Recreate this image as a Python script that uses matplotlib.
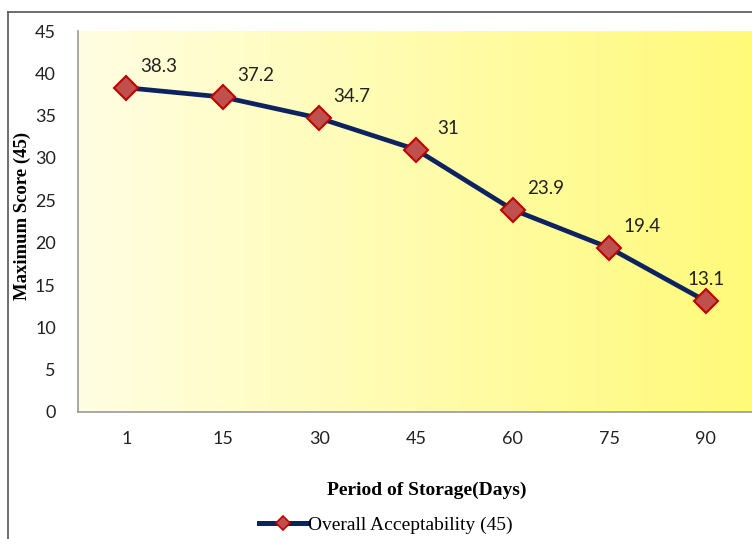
import numpy as np
import matplotlib
matplotlib.use('Agg')
import matplotlib.pyplot as plt
from matplotlib.colors import LinearSegmentedColormap
from matplotlib.lines import Line2D

days = ['1', '15', '30', '45', '60', '75', '90']
scores = [38.3, 37.2, 34.7, 31.0, 23.9, 19.4, 13.1]
score_labels = ['38.3', '37.2', '34.7', '31', '23.9', '19.4', '13.1']
y_ticks = [0, 5, 10, 15, 20, 25, 30, 35, 40, 45]

LINE_C = '#0D2260'
FACE_C = '#C0504D'
EDGE_C = '#C00000'
TICK_FONT = 'Lato'

fig = plt.figure(figsize=(7.52, 5.39), dpi=100)
ax = fig.add_axes([78/752, 127/539, 676/752, 381/539])

# gradient background of plot area
cmap = LinearSegmentedColormap.from_list('yel', ['#FFFEE2', '#FFFA78'])
grad = np.linspace(0, 1, 256).reshape(1, -1)
x = np.arange(len(days))
ax.imshow(grad, cmap=cmap, aspect='auto', extent=(-0.5, len(days) - 0.5, 0, 45),
          zorder=0, interpolation='bicubic')

ax.plot(x, scores, color=LINE_C, lw=3.4, marker='D', markersize=12,
        markerfacecolor=FACE_C, markeredgecolor=EDGE_C, markeredgewidth=1.5, zorder=3)

for i, (v, lab) in enumerate(zip(scores, score_labels)):
    if i == len(scores) - 1:
        off = (0, 15.5)
    else:
        off = (23.5, 15.5)
    ax.annotate(lab, (i, v), xytext=off, textcoords='offset points', ha='center',
                va='center', fontsize=13.5, family=TICK_FONT, color='#222222')

ax.set_xlim(-0.5, len(days) - 0.5)
ax.set_ylim(0, 45)
ax.set_yticks(y_ticks)
ax.set_xticks(x)
ax.set_xticklabels(days)
for s in ['top', 'right']:
    ax.spines[s].set_visible(False)
for s in ['left', 'bottom']:
    ax.spines[s].set_color('#999999')
    ax.spines[s].set_linewidth(1.2)
ax.tick_params(axis='both', length=0, labelsize=13, colors='#222222')
ax.tick_params(axis='y', pad=16)
ax.tick_params(axis='x', pad=14)
for t in ax.get_xticklabels() + ax.get_yticklabels():
    t.set_family(TICK_FONT)

fig.text(22/752, 1 - 216/539, 'Maximum Score (45)', rotation=90, ha='center', va='center',
         family='Liberation Serif', fontweight='bold', fontsize=13.5)
fig.text(427/752, 1 - 490/539, 'Period of Storage(Days)', ha='center', va='center',
         family='Liberation Serif', fontweight='bold', fontsize=14)

# legend
handle = Line2D([0], [0], color=LINE_C, lw=3.6, marker='D', markersize=7,
                markerfacecolor=FACE_C, markeredgecolor=EDGE_C, markeredgewidth=1.2)
fig.legend([handle], ['Overall Acceptability (45)'], loc='center', bbox_to_anchor=(386/752, 1 - 525/539),
           frameon=False, prop={'family': 'Liberation Serif', 'size': 14},
           handlelength=2.5, handletextpad=0.05)

# outer chart border (cropped)
fig.add_artist(Line2D([8/752, 8/752], [0, 1 - 12/539], color='#555555', lw=1.2))
fig.add_artist(Line2D([8/752, 1], [1 - 12/539, 1 - 12/539], color='#555555', lw=1.2))

fig.savefig('out.png', dpi=100)
